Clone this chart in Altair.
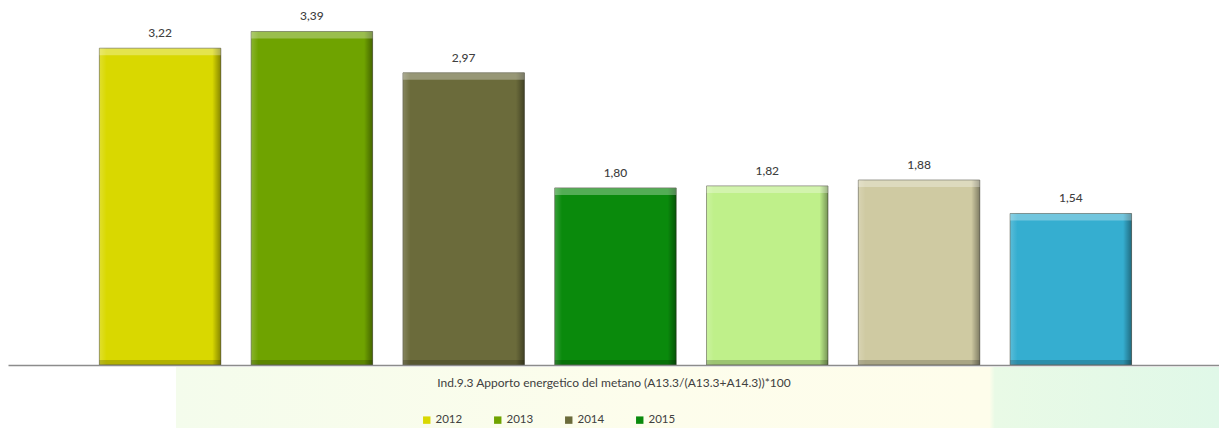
import altair as alt
import pandas as pd

# Indicator values by year (one bar per year)
years = ["2012", "2013", "2014", "2015", "2016", "2017", "2018"]
values = [3.22, 3.39, 2.97, 1.80, 1.82, 1.88, 1.54]
colors = ["#d9d800", "#6fa300", "#6b6b3b", "#0a8a0c", "#bff08a", "#cfcaa2", "#35aed0"]
legend_years = ["2012", "2013", "2014", "2015"]

title_text = "Ind.9.3 Apporto energetico del metano (A13.3/(A13.3+A14.3))*100"

df = pd.DataFrame({"anno": years, "valore": values})

W, H = 1211, 364
FONT = "Lato"

x_enc = alt.X(
    "anno:N",
    sort=years,
    scale=alt.Scale(paddingInner=0.2, paddingOuter=0.589, align=0.511),
    axis=alt.Axis(
        labels=False,
        ticks=False,
        domainColor="#8c8c8c",
        domainWidth=1.5,
        title=title_text,
        titleFont=FONT,
        titleFontSize=12,
        titleFontWeight="normal",
        titleColor="#404040",
        titlePadding=12,
        zindex=2,
    ),
)
y_enc = alt.Y("valore:Q", scale=alt.Scale(domain=[0, 3.7], nice=False), axis=None)

base = alt.Chart(df)

# soft band behind the caption area
band = base.mark_rect(
    fill=alt.Gradient(
        gradient="linear",
        x1=0, x2=1, y1=0, y2=0,
        stops=[
            alt.GradientStop(color="#f4fcec", offset=0),
            alt.GradientStop(color="#fdfdec", offset=0.45),
            alt.GradientStop(color="#fefdeb", offset=0.78),
            alt.GradientStop(color="#e9fae6", offset=0.785),
            alt.GradientStop(color="#e0f8e8", offset=1),
        ],
    )
).encode(
    x=alt.value(168), x2=alt.value(W), y=alt.value(H + 2), y2=alt.value(H + 64)
)

bars = base.mark_bar(stroke="#3a3a2a", strokeOpacity=0.55, strokeWidth=1).encode(
    x=x_enc,
    y=y_enc,
    color=alt.Color(
        "anno:N",
        scale=alt.Scale(domain=years, range=colors),
        legend=alt.Legend(
            values=legend_years,
            orient="none",
            legendX=413,
            legendY=413,
            direction="horizontal",
            columns=4,
            columnPadding=29,
            title=None,
            symbolType="square",
            symbolSize=55,
            symbolStrokeWidth=0,
            labelFont=FONT,
            labelFontSize=11.5,
            labelColor="#404040",
            labelOffset=3,
        ),
    ),
)

# side shading: light left edge, dark right edge
sides = base.mark_bar(
    fill=alt.Gradient(
        gradient="linear",
        x1=0, x2=1, y1=0, y2=0,
        stops=[
            alt.GradientStop(color="rgba(255,255,255,0.18)", offset=0),
            alt.GradientStop(color="rgba(255,255,255,0)", offset=0.06),
            alt.GradientStop(color="rgba(0,0,0,0)", offset=0.93),
            alt.GradientStop(color="rgba(0,0,0,0.38)", offset=1),
        ],
    )
).encode(x=alt.X("anno:N", sort=years), y="valore:Q")

# top highlight bevel
top = base.mark_bar(fill="white", fillOpacity=0.3, y2Offset=7).encode(
    x=alt.X("anno:N", sort=years), y="valore:Q", y2="valore:Q"
)

# bottom shadow bevel
bottom = base.mark_bar(fill="black", fillOpacity=0.18, y2Offset=-5).encode(
    x=alt.X("anno:N", sort=years), y=alt.datum(0), y2=alt.datum(0)
)

labels = base.transform_calculate(
    etichetta="replace(format(datum.valore, '.2f'), '.', ',')"
).mark_text(
    font=FONT, fontSize=12, fontWeight=500, color="#404040", dy=-15, baseline="middle"
).encode(x=alt.X("anno:N", sort=years), y="valore:Q", text="etichetta:N")

chart = (
    alt.layer(band, bars, sides, top, bottom, labels)
    .properties(
        width=W,
        height=H,
        autosize=alt.AutoSizeParams(type="none"),
        padding={"left": 8, "top": 1, "right": 0, "bottom": 63},
        background="white",
    )
    .configure_view(stroke=None)
)

chart.save("out.html", embed_options={"renderer": "svg", "actions": False})
